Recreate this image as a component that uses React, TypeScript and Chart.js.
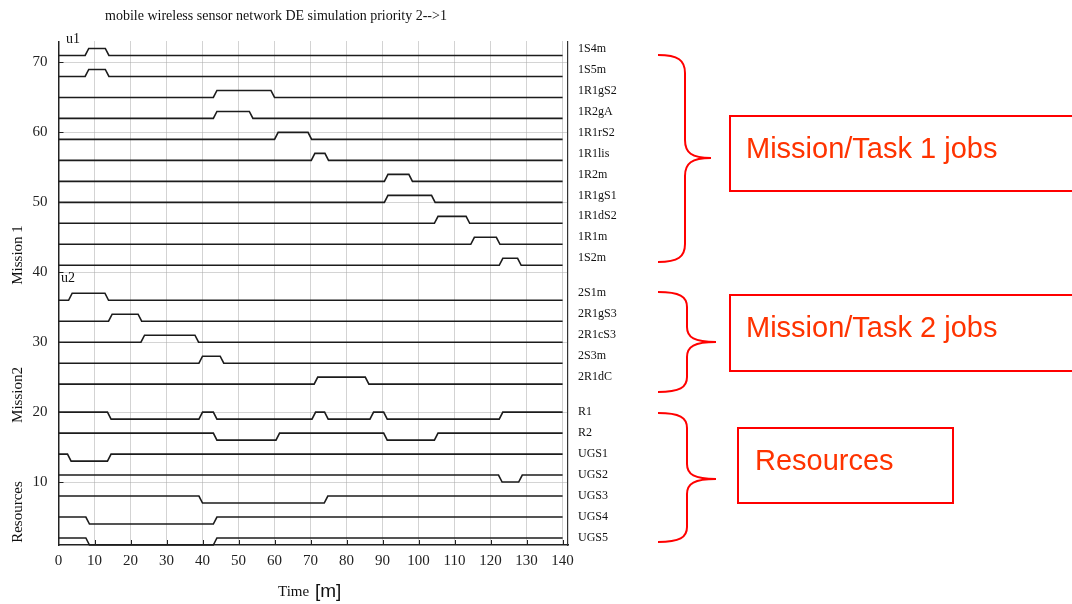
import React, { useEffect, useRef } from 'react';
import { Chart, registerables } from 'chart.js';

Chart.register(...registerables);

// ---------- data ----------
const TITLE = 'mobile wireless sensor network DE simulation priority 2-->1';
const X_TICKS = [0, 10, 20, 30, 40, 50, 60, 70, 80, 90, 100, 110, 120, 130, 140];
const Y_TICKS = [10, 20, 30, 40, 50, 60, 70];
const X_MIN = 0;
const X_MAX = 141.5;
const Y_MIN = 1;
const Y_MAX = 73;
const T_END = 140;
const RAMP = 1; // transition time of each state change [m]

// Mission/Task 1 jobs: idle level, active level = idle + 1
const JOB1_NAMES = ['1S4m', '1S5m', '1R1gS2', '1R2gA', '1R1rS2', '1R1lis', '1R2m', '1R1gS1', '1R1dS2', '1R1m', '1S2m'];
const JOB1_BASE = [71, 68, 65, 62, 59, 56, 53, 50, 47, 44, 41];
const JOB1_ACTIVE: number[][][] = [
  [[7.4, 13]],
  [[7.4, 13]],
  [[43, 59]],
  [[43, 53]],
  [[60, 69.3]],
  [[70.2, 74]],
  [[90.5, 97.3]],
  [[90.5, 103.6]],
  [[104.4, 113.2]],
  [[114.5, 121.6]],
  [[122.4, 127.5]],
];

// Mission/Task 2 jobs
const JOB2_NAMES = ['2S1m', '2R1gS3', '2R1cS3', '2S3m', '2R1dC'];
const JOB2_BASE = [36, 33, 30, 27, 24];
const JOB2_ACTIVE: number[][][] = [
  [[2.8, 12.9]],
  [[13.9, 22.1]],
  [[22.9, 37.9]],
  [[39, 44.9]],
  [[71, 85.2]],
];

// Resources: available level, busy level = available - 1
const RES_NAMES = ['R1', 'R2', 'UGS1', 'UGS2', 'UGS3', 'UGS4', 'UGS5'];
const RES_AVAIL = [20, 17, 14, 11, 8, 5, 2];
const RES_BUSY: number[][][] = [
  [[13.6, 39], [43, 70.4], [73.9, 86.5], [90.3, 122.4]],
  [[43, 60.4], [90.3, 104.4]],
  [[2.5, 13.6]],
  [[122.2, 127.8]],
  [[39, 73.8]],
  [[7.6, 43]],
  [[7.6, 43]],
];

// ---------- helpers ----------
function trace(base: number, other: number, intervals: number[][]) {
  const pts: { x: number; y: number }[] = [{ x: 0, y: base }];
  intervals.forEach(([s, e]) => {
    pts.push({ x: s, y: base }, { x: s + RAMP, y: other }, { x: e, y: other }, { x: e + RAMP, y: base });
  });
  pts.push({ x: T_END, y: base });
  return pts;
}

const SERIF = '"Liberation Serif", "DejaVu Serif", serif';
const SANS = '"Liberation Sans", Arial, sans-serif';
const RED = '#ff0000';
const RED_TEXT = '#ff3300';

function drawBrace(ctx: CanvasRenderingContext2D, xEnd: number, xSpine: number, xTip: number,
  yTop: number, yMid: number, yBot: number, r: number) {
  ctx.beginPath();
  ctx.moveTo(xEnd, yTop);
  ctx.bezierCurveTo(xEnd + (xSpine - xEnd) * 0.75, yTop, xSpine, yTop + r * 0.3, xSpine, yTop + r);
  ctx.lineTo(xSpine, yMid - r);
  ctx.bezierCurveTo(xSpine, yMid - r * 0.3, xSpine + (xTip - xSpine) * 0.25, yMid, xTip, yMid);
  ctx.bezierCurveTo(xSpine + (xTip - xSpine) * 0.25, yMid, xSpine, yMid + r * 0.3, xSpine, yMid + r);
  ctx.lineTo(xSpine, yBot - r);
  ctx.bezierCurveTo(xSpine, yBot - r * 0.3, xEnd + (xSpine - xEnd) * 0.75, yBot, xEnd, yBot);
  ctx.stroke();
}

const annotatePlugin = {
  id: 'annotate',
  afterDraw(chart: any) {
    const { ctx, chartArea: a, scales } = chart;
    const xs = scales.x;
    const ys = scales.y;
    ctx.save();

    // inward tick marks
    ctx.strokeStyle = '#222';
    ctx.lineWidth = 1;
    ctx.beginPath();
    Y_TICKS.forEach((v) => {
      const py = Math.round(ys.getPixelForValue(v)) + 0.5;
      ctx.moveTo(a.left, py);
      ctx.lineTo(a.left + 5, py);
    });
    X_TICKS.forEach((v) => {
      if (v === 0) return;
      const px = Math.round(xs.getPixelForValue(v)) + 0.5;
      ctx.moveTo(px, a.bottom);
      ctx.lineTo(px, a.bottom - 5);
    });
    ctx.stroke();

    // title
    ctx.fillStyle = '#111';
    ctx.textAlign = 'left';
    ctx.textBaseline = 'alphabetic';
    ctx.font = `14px ${SERIF}`;
    ctx.fillText(TITLE, 105, 20);

    // subplot tags
    ctx.font = `14px ${SERIF}`;
    ctx.fillText('u1', 66, 43);
    ctx.fillText('u2', 61, 282);

    // x axis title
    ctx.font = `15px ${SERIF}`;
    ctx.fillText('Time', 278, 596);
    ctx.font = `19px ${SANS}`;
    ctx.fillText('[m]', 315, 597);

    // group labels on the left
    ctx.font = `15px ${SERIF}`;
    ctx.textAlign = 'center';
    ctx.textBaseline = 'middle';
    ([['Mission 1', 255], ['Mission2', 395], ['Resources', 512]] as [string, number][]).forEach(([t, cy]) => {
      ctx.save();
      ctx.translate(18, cy);
      ctx.rotate(-Math.PI / 2);
      ctx.fillText(t, 0, 0);
      ctx.restore();
    });

    // red annotations
    ctx.strokeStyle = RED;
    ctx.lineWidth = 2;
    drawBrace(ctx, 658, 685, 711, 55, 158, 262, 18);
    drawBrace(ctx, 658, 687, 716, 292, 342, 392, 15);
    drawBrace(ctx, 658, 687, 716, 413, 479, 542, 15);

    ctx.strokeRect(730, 116, 360, 75);
    ctx.strokeRect(730, 295, 360, 76);
    ctx.strokeRect(738, 428, 215, 75);

    ctx.fillStyle = RED_TEXT;
    ctx.textAlign = 'left';
    ctx.textBaseline = 'alphabetic';
    ctx.font = `29px ${SANS}`;
    ctx.fillText('Mission/Task 1 jobs', 746, 158);
    ctx.fillText('Mission/Task 2 jobs', 746, 337);
    ctx.fillText('Resources', 755, 470);

    ctx.restore();
  },
};

export default function App() {
  const canvasRef = useRef<HTMLCanvasElement | null>(null);

  useEffect(() => {
    if (!canvasRef.current) return;

    const lineStyle = {
      borderColor: '#1c1c1c',
      borderWidth: 1.6,
      pointRadius: 0,
      tension: 0,
      fill: false,
      clip: false as any,
    };

    const datasets: any[] = [];
    JOB1_NAMES.forEach((n, i) => datasets.push({ label: n, data: trace(JOB1_BASE[i], JOB1_BASE[i] + 1, JOB1_ACTIVE[i]), ...lineStyle }));
    JOB2_NAMES.forEach((n, i) => datasets.push({ label: n, data: trace(JOB2_BASE[i], JOB2_BASE[i] + 1, JOB2_ACTIVE[i]), ...lineStyle }));
    RES_NAMES.forEach((n, i) => datasets.push({ label: n, data: trace(RES_AVAIL[i], RES_AVAIL[i] - 1, RES_BUSY[i]), ...lineStyle }));

    // right-side labels at the upper level of each trace
    const labelPos: number[] = [
      ...JOB1_BASE.map((b) => b + 1),
      ...JOB2_BASE.map((b) => b + 1),
      ...RES_AVAIL,
    ];
    const labelNames: string[] = [...JOB1_NAMES, ...JOB2_NAMES, ...RES_NAMES];

    const chart = new Chart(canvasRef.current, {
      type: 'line',
      data: { datasets },
      plugins: [annotatePlugin],
      options: {
        animation: false,
        responsive: false,
        maintainAspectRatio: false,
        layout: { padding: { top: 41.5, left: 0, right: 0, bottom: 0 } },
        plugins: { legend: { display: false }, tooltip: { enabled: false }, title: { display: false } },
        scales: {
          x: {
            type: 'linear',
            min: X_MIN,
            max: X_MAX,
            afterBuildTicks: (s: any) => { s.ticks = X_TICKS.map((v) => ({ value: v })); },
            afterFit: (s: any) => { s.height = 59; },
            ticks: { color: '#222', font: { family: SERIF, size: 15 }, padding: 7, maxRotation: 0, autoSkip: false },
            grid: { color: '#a8a8a8', lineWidth: 1, drawTicks: false },
            border: { color: '#222', width: 1.5, dash: [1, 1] },
          },
          y: {
            type: 'linear',
            position: 'left',
            min: Y_MIN,
            max: Y_MAX,
            afterBuildTicks: (s: any) => { s.ticks = Y_TICKS.map((v) => ({ value: v })); },
            afterFit: (s: any) => { s.width = 58.5; },
            ticks: { color: '#222', font: { family: SERIF, size: 15 }, padding: 11 },
            grid: { color: '#a8a8a8', lineWidth: 1, drawTicks: false },
            border: { color: '#222', width: 1.5, dash: [1, 1] },
          },
          y2: {
            type: 'linear',
            position: 'right',
            min: Y_MIN,
            max: Y_MAX,
            afterBuildTicks: (s: any) => { s.ticks = labelPos.map((v) => ({ value: v })); },
            afterFit: (s: any) => { s.width = 1072 - 568; },
            ticks: {
              color: '#111',
              font: { family: SERIF, size: 12 },
              padding: 10,
              autoSkip: false,
              callback: (v: any) => {
                const idx = labelPos.indexOf(Number(v));
                return idx >= 0 ? labelNames[idx] : '';
              },
            },
            grid: { display: false, drawOnChartArea: false, drawTicks: false },
            border: { display: true, color: '#333', width: 1.2 },
          },
        },
      },
    });

    return () => chart.destroy();
  }, []);

  return (
    <div style={{ position: 'fixed', left: 0, top: 0, width: 1072, height: 604, background: '#fff' }}>
      <canvas ref={canvasRef} width={1072} height={604} />
    </div>
  );
}
